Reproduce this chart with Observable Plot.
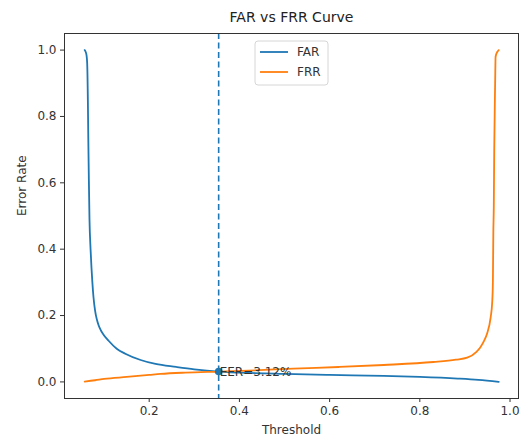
<!DOCTYPE html>
<html><head><meta charset="utf-8">
<script src="https://cdn.jsdelivr.net/npm/d3@7"></script>
<script src="https://cdn.jsdelivr.net/npm/@observablehq/plot@0.6"></script>
<style>body{margin:0;background:#fff}</style>
</head><body><div id="chart"></div>
<script>
const seriesNames = ["FAR", "FRR"];
const seriesColors = ["#1f77b4", "#ff7f0e"];

const farThreshold = [0.057, 0.059, 0.061, 0.0625, 0.064, 0.065, 0.066, 0.0676, 0.070, 0.072, 0.074, 0.0765, 0.080, 0.084, 0.088, 0.093, 0.098, 0.110, 0.128, 0.147, 0.181, 0.214, 0.26, 0.30, 0.354, 0.40, 0.50, 0.60, 0.72, 0.80, 0.884, 0.93, 0.975];
const farValues    = [1.0,   0.995, 0.985, 0.96,   0.85,  0.73,  0.63,  0.49,   0.40,  0.345, 0.30,  0.255,  0.215, 0.188, 0.170, 0.155, 0.144, 0.124, 0.100, 0.085, 0.066, 0.054, 0.045, 0.038, 0.0312, 0.028, 0.024, 0.021, 0.018, 0.015, 0.010, 0.006, 0.0];

const frrThreshold = [0.057, 0.08, 0.10, 0.15, 0.20, 0.225, 0.28, 0.354, 0.42, 0.52, 0.62, 0.72, 0.83, 0.88, 0.905, 0.925, 0.934, 0.943, 0.949, 0.957, 0.9605, 0.962, 0.963, 0.964, 0.965, 0.967, 0.968, 0.972, 0.975];
const frrValues    = [0.001, 0.005, 0.009, 0.015, 0.021, 0.024, 0.028, 0.0312, 0.034, 0.040, 0.045, 0.051, 0.060, 0.067, 0.073, 0.090, 0.104, 0.125, 0.145, 0.194, 0.24, 0.30, 0.45, 0.527, 0.70, 0.90, 0.98, 0.995, 1.0];

const eerThreshold = 0.354;
const eerValue = 0.0312;
const eerLabel = "EER=3.12%";

const xTicks = [0.2, 0.4, 0.6, 0.8, 1.0];
const yTicks = [0.0, 0.2, 0.4, 0.6, 0.8, 1.0];
const titleText = "FAR vs FRR Curve";
const xLabel = "Threshold";
const yLabel = "Error Rate";

const far = farThreshold.map((t, i) => ({t, v: farValues[i]}));
const frr = frrThreshold.map((t, i) => ({t, v: frrValues[i]}));
const eer = [{t: eerThreshold, v: eerValue, label: eerLabel}];

const font = "'DejaVu Sans', sans-serif";

const plot = Plot.plot({
  width: 526,
  height: 439,
  marginLeft: 64,
  marginRight: 8,
  marginTop: 33,
  marginBottom: 41,
  style: {fontFamily: font, fontSize: "12px", background: "#fff", color: "#333"},
  x: {domain: [0.0122, 1.0188], ticks: xTicks, tickFormat: d3.format(".1f"), label: null},
  y: {domain: [-0.05, 1.05], ticks: yTicks, tickFormat: d3.format(".1f"), label: null},
  marks: [
    Plot.axisX({ticks: xTicks, tickFormat: d3.format(".1f"), tickSize: 4, tickPadding: 4, stroke: "#333", fill: "#333", fontSize: 12}),
    Plot.axisY({ticks: yTicks, tickFormat: d3.format(".1f"), tickSize: 4, tickPadding: 4, stroke: "#333", fill: "#333", fontSize: 12}),
    Plot.line(far, {x: "t", y: "v", stroke: seriesColors[0], strokeWidth: 1.8, curve: "monotone-x"}),
    Plot.line(frr, {x: "t", y: "v", stroke: seriesColors[1], strokeWidth: 1.8, curve: "monotone-x"}),
    Plot.ruleX(eer, {x: "t", stroke: seriesColors[0], strokeWidth: 1.6, strokeDasharray: "6,3.5"}),
    Plot.dot(eer, {x: "t", y: "v", r: 3.8, fill: seriesColors[0], stroke: null}),
    Plot.text(eer, {x: "t", y: "v", text: "label", textAnchor: "start", lineAnchor: "bottom", dx: 1, dy: 4, fill: "#333", fontSize: 12}),
    Plot.frame({stroke: "#333", strokeWidth: 1}),
    Plot.text([titleText], {frameAnchor: "top", dy: -16, fontSize: 14, fill: "#222", lineAnchor: "middle"}),
    Plot.text([xLabel], {frameAnchor: "bottom", dy: 32, fontSize: 12, fill: "#333", lineAnchor: "middle"}),
    Plot.text([yLabel], {frameAnchor: "left", dx: -42, rotate: -90, fontSize: 12, fill: "#333", lineAnchor: "middle"})
  ]
});

// legend (matplotlib-style box)
const svg = d3.select(plot);
const lg = svg.append("g").attr("font-family", font).attr("font-size", 12).attr("text-anchor", "start");
lg.append("rect").attr("x", 255).attr("y", 41).attr("width", 73).attr("height", 44)
  .attr("rx", 3).attr("fill", "#fff").attr("fill-opacity", 0.8).attr("stroke", "#d6d6d6");
seriesNames.forEach((name, i) => {
  const y = 52 + i * 20;
  lg.append("line").attr("x1", 260).attr("x2", 288).attr("y1", y).attr("y2", y)
    .attr("stroke", seriesColors[i]).attr("stroke-width", 1.8);
  lg.append("text").attr("x", 297).attr("y", y).attr("dy", "0.35em").attr("fill", "#333").text(name);
});

document.getElementById("chart").appendChild(plot);
</script>
</body></html>
